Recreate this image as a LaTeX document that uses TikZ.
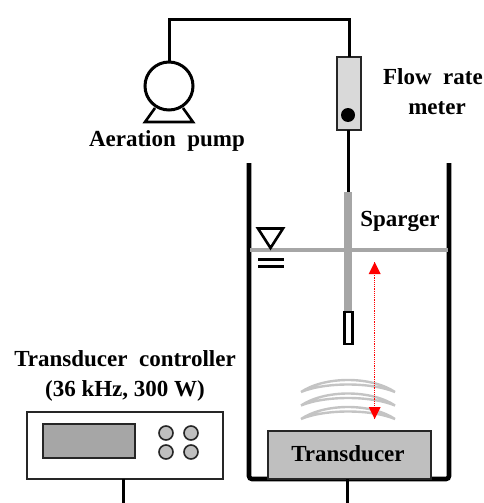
\documentclass[tikz,border=0pt]{standalone}
\usepackage{fontspec}
\setmainfont{Liberation Serif}
\definecolor{metergray}{HTML}{D9D9D9}
\definecolor{sparegray}{HTML}{A6A6A6}
\definecolor{boxgray}{HTML}{BFBFBF}
\tikzset{
  label text/.style={font=\fontsize{23}{26}\selectfont\bfseries, inner sep=0pt},
  pipe/.style={line width=3pt},
  thin box/.style={draw=black!85, line width=1.6pt, inner sep=0pt, outer sep=0pt},
  knob/.style={thin box, circle, fill=boxgray, minimum size=14pt},
  wave/.style={draw=black!23, line width=2.4pt, fill=white}
}
\begin{document}
\begin{tikzpicture}[x=1pt,y=-1pt]
      \useasboundingbox (0,0) rectangle (484,503);

      % air line
      \node[draw, circle, line width=3pt, minimum size=48pt, inner sep=0pt, outer sep=0pt] (pump) at (169,86) {};
      \draw[line width=2.6pt] (155,108) -- (145,122) -- (193,122) -- (183,108);
      \node[label text] (pumplabel) at (167,140.5) {Aeration\ \ pump};

      \node[thin box, fill=metergray, minimum width=24pt, minimum height=73pt] (meter) at (349,93.5) {};
      \node[draw=none, fill=black, circle, minimum size=14pt, inner sep=0pt] (ball) at (348,115) {};
      \node[label text] (flowlabel) at (433,77) {Flow\ \ rate};
      \node[label text] (meterlabel) at (437,108) {meter};

      \coordinate (pipeleft) at (169,20);
      \coordinate (piperight) at (349,20);
      \draw[pipe] (pump.north) -- (pipeleft) -- (piperight) -- (meter.north);

      % sparger
      \node[draw=none, fill=sparegray, minimum width=8pt, minimum height=120pt, inner sep=0pt, outer sep=0pt] (sparger) at (348,252) {};
      \node[draw, fill=white, line width=2.2pt, minimum width=8pt, minimum height=32pt, inner sep=0pt, outer sep=0pt] (tip) at (348.5,328) {};
      \node[label text] (spargerlabel) at (400,221) {Sparger};
      \draw[pipe] (meter.south -| sparger.north) -- (sparger.north);

      % tank
      \draw[line width=4.6pt, rounded corners=3pt] (249,163) -- (249,479) -- (449,479) -- (449,163);
      \draw[sparegray, line width=4.6pt] (250,250) -- (448,250);
      \draw[line width=2.6pt] (258,228.5) -- (283,228.5) -- (270.5,248) -- cycle;
      \draw[line width=2.4pt] (258,259.5) -- (284,259.5);
      \draw[line width=2.4pt] (258,266.5) -- (284,266.5);

      % waves
      \foreach \y in {0,13.5,27}
        \draw[wave] (301,392+\y) .. controls (325,376+\y) and (371,376+\y) .. (395,392+\y)
                    .. controls (371,382+\y) and (325,382+\y) .. (301,392+\y);

      % distance
      \coordinate (disttop) at (374.7,262);
      \coordinate (distbot) at (374.7,419);
      \draw[red, densely dotted, line width=1.2pt] (disttop) -- (distbot);
      \fill[red] (disttop) -- ++(6,12) -- ++(-12,0) -- cycle;
      \fill[red] (distbot) -- ++(6,-12) -- ++(-12,0) -- cycle;

      % transducer
      \node[thin box, fill=boxgray, minimum width=163pt, minimum height=48pt] (transducer) at (349.5,455) {};
      \node[label text] (transducerlabel) at (348,454) {Transducer};
      \coordinate (wirea) at (347,503);
      \draw[pipe] (347,479) -- (wirea);

      % controller
      \node[label text] (ctrllabel) at (125,359) {Transducer\ \ controller};
      \node[label text] (ratelabel) at (125,391) {(36 kHz, 300 W)};
      \node[thin box, fill=white, minimum width=196pt, minimum height=67pt] (ctrl) at (125,445.5) {};
      \node[thin box, fill=sparegray, minimum width=92pt, minimum height=34pt] (screen) at (89,441) {};
      \node[knob] (knoba) at (166,433) {};
      \node[knob] (knobb) at (191,433) {};
      \node[knob] (knobc) at (166,452) {};
      \node[knob] (knobd) at (191,452) {};
      \coordinate (wireb) at (123,503);
      \draw[pipe] (ctrl.south -| wireb) -- (wireb);
\end{tikzpicture}
\end{document}
